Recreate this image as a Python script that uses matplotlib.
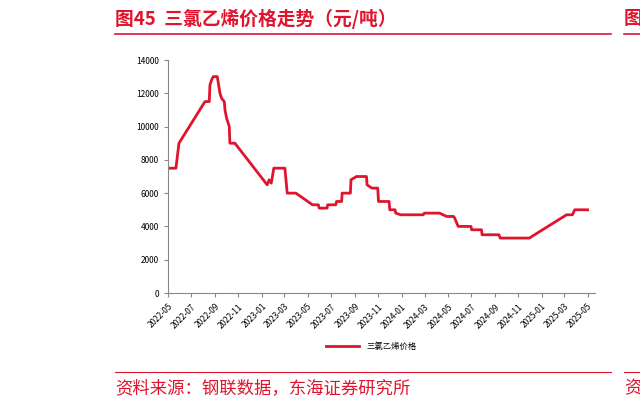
import matplotlib
matplotlib.use("Agg")
import matplotlib.pyplot as plt
import matplotlib.dates as mdates
import pandas as pd

plt.rcParams['font.family'] = ['Noto Sans CJK SC', 'DejaVu Sans']

# months since 2022-05-01 and price (元/吨)
months = [0.0, 0.68, 0.94, 3.17, 3.54, 3.6, 3.74, 3.88, 4.23, 4.46, 4.6, 4.83, 4.89, 5.03, 5.26, 5.31, 5.74,
          8.51, 8.68, 8.86, 9.08, 10.03, 10.11, 10.23, 10.97, 12.4, 12.9, 12.97, 13.65, 13.7, 14.4, 14.46,
          14.9, 14.94, 15.65, 15.7, 16.17, 17.03, 17.08, 17.5, 18.0, 18.06, 18.97, 19.03, 19.48, 19.54,
          19.97, 21.9, 22.0, 23.3, 23.9, 24.5, 24.6, 24.9, 26.0, 26.05, 26.9, 26.95, 28.4, 28.5, 31.0,
          34.2, 34.7, 34.9, 36.0]
prices = [7500, 7500, 9000, 11500, 11500, 12500, 12800, 13000, 13000, 12000, 11700, 11500, 11000, 10500, 10000, 9000, 9000,
          6500, 6800, 6600, 7500, 7500, 6900, 6000, 6000, 5300, 5300, 5100, 5100, 5300, 5300, 5500,
          5500, 6000, 6000, 6800, 7000, 7000, 6500, 6300, 6300, 5500, 5500, 5000, 5000, 4800,
          4700, 4700, 4800, 4800, 4600, 4600, 4500, 4000, 4000, 3800, 3800, 3500, 3500, 3300, 3300,
          4700, 4700, 5000, 5000]

start = pd.Timestamp("2022-05-01")
dates = [start + pd.Timedelta(days=m * 30.44) for m in months]

red = "#E0142D"
fig = plt.figure(figsize=(6.4, 4.09), dpi=100)
ax = fig.add_axes([0.2625, 0.2836, 0.667, 0.5697])
ax.plot(dates, prices, color=red, lw=2, label="三氯乙烯价格")
ax.set_ylim(0, 14000)
ax.set_yticks(range(0, 14001, 2000))
ax.set_xlim(start, pd.Timestamp("2025-05-20"))
ax.xaxis.set_major_locator(mdates.MonthLocator(bymonth=[1, 3, 5, 7, 9, 11]))
ax.xaxis.set_major_formatter(mdates.DateFormatter("%Y-%m"))
for lab in ax.get_xticklabels():
    lab.set_rotation(45)
    lab.set_ha("right")
    lab.set_rotation_mode("anchor")
ax.tick_params(labelsize=6, color="#888888", length=3)
for s in ["top", "right"]:
    ax.spines[s].set_visible(False)
for s in ["left", "bottom"]:
    ax.spines[s].set_color("#888888")

fig.legend(loc="center", bbox_to_anchor=(0.58, 0.152), frameon=False, fontsize=6, handlelength=4)

fig.text(0.18, 0.955, "图45  三氯乙烯价格走势（元/吨）", color=red, fontsize=13.5, fontweight="bold", va="center")
fig.text(0.975, 0.955, "图", color=red, fontsize=13.5, fontweight="bold", va="center")
fig.add_artist(plt.Line2D([0.18, 0.955], [0.918, 0.918], color=red, lw=1.2))
fig.add_artist(plt.Line2D([0.975, 1.0], [0.918, 0.918], color=red, lw=1.2))
fig.add_artist(plt.Line2D([0.18, 0.955], [0.09, 0.09], color=red, lw=0.8))
fig.add_artist(plt.Line2D([0.975, 1.0], [0.09, 0.09], color=red, lw=0.8))
fig.text(0.18, 0.05, "资料来源：钢联数据，东海证券研究所", color=red, fontsize=12.5, va="center")
fig.text(0.975, 0.05, "资", color=red, fontsize=12.5, va="center")

fig.savefig("out.png", dpi=100)
